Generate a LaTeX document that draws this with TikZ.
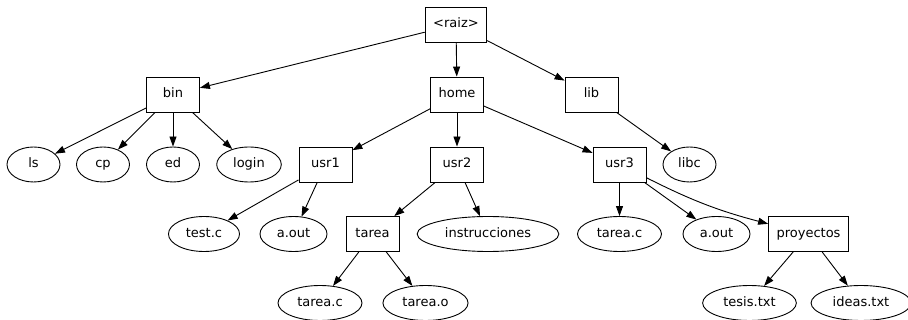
\documentclass[tikz,border=0pt]{standalone}
\usepackage{fontspec}
\setmainfont{DejaVu Sans}
\usetikzlibrary{arrows.meta,shapes.geometric}
\tikzset{dir/.style={draw,rectangle,line width=0.9pt,font=\fontsize{13}{15}\selectfont,inner xsep=8pt,minimum width=53pt,minimum height=35pt,text height=10pt,text depth=3pt}, file/.style={draw,ellipse,line width=0.9pt,font=\fontsize{13}{15}\selectfont,inner xsep=7pt,inner ysep=0pt,minimum width=53pt,minimum height=35pt,text height=10pt,text depth=3pt}, flow/.style={-{Triangle[length=10pt,width=7pt]},line width=0.9pt}}

\begin{document}
\begin{tikzpicture}[x=1pt,y=-1pt]
\useasboundingbox (0,0) rectangle (908,320);
\node[dir] (raiz) at (456,24.5) {<raiz>};
\node[dir] (bin) at (173,94.5) {bin};
\node[dir] (home) at (457,94.5) {home};
\node[dir] (lib) at (591.5,94.5) {lib};
\node[file] (ls) at (33.5,164.5) {ls};
\node[file] (cp) at (103,164.5) {cp};
\node[file] (ed) at (173,164.5) {ed};
\node[file] (login) at (249,164.5) {login};
\node[dir] (usr1) at (325.5,164.5) {usr1};
\node[dir] (usr2) at (457,164.5) {usr2};
\node[dir] (usr3) at (619.5,164.5) {usr3};
\node[file] (libc) at (689.5,164.5) {libc};
\node[file] (testc) at (204,234) {test.c};
\node[file] (aouta) at (293.5,234) {a.out};
\node[dir] (tarea) at (372.5,234) {tarea};
\node[file] (instr) at (488,234) {instrucciones};
\node[file] (tareacb) at (619.5,234) {tarea.c};
\node[file] (aoutb) at (716.5,234) {a.out};
\node[dir] (proy) at (808.5,234) {proyectos};
\node[file] (tareaca) at (320,303) {tarea.c};
\node[file] (tareao) at (425.5,303) {tarea.o};
\node[file] (tesis) at (749.5,303) {tesis.txt};
\node[file] (ideas) at (861,303) {ideas.txt};
\draw[flow] (raiz)--(bin);
\draw[flow] (raiz)--(home);
\draw[flow] (raiz)--(lib);
\draw[flow] (bin)--(ls);
\draw[flow] (bin)--(cp);
\draw[flow] (bin)--(ed);
\draw[flow] (bin)--(login);
\draw[flow] (home)--(usr1);
\draw[flow] (home)--(usr2);
\draw[flow] (home)--(usr3);
\draw[flow] (lib)--(libc);
\draw[flow] (usr1)--(testc);
\draw[flow] (usr1)--(aouta);
\draw[flow] (usr2)--(tarea);
\draw[flow] (usr2)--(instr);
\draw[flow] (usr3)--(tareacb);
\draw[flow] (usr3)--(aoutb);
\draw[flow] (usr3) to[bend right=6] (proy);
\draw[flow] (tarea)--(tareaca);
\draw[flow] (tarea)--(tareao);
\draw[flow] (proy)--(tesis);
\draw[flow] (proy)--(ideas);
\end{tikzpicture}
\end{document}
